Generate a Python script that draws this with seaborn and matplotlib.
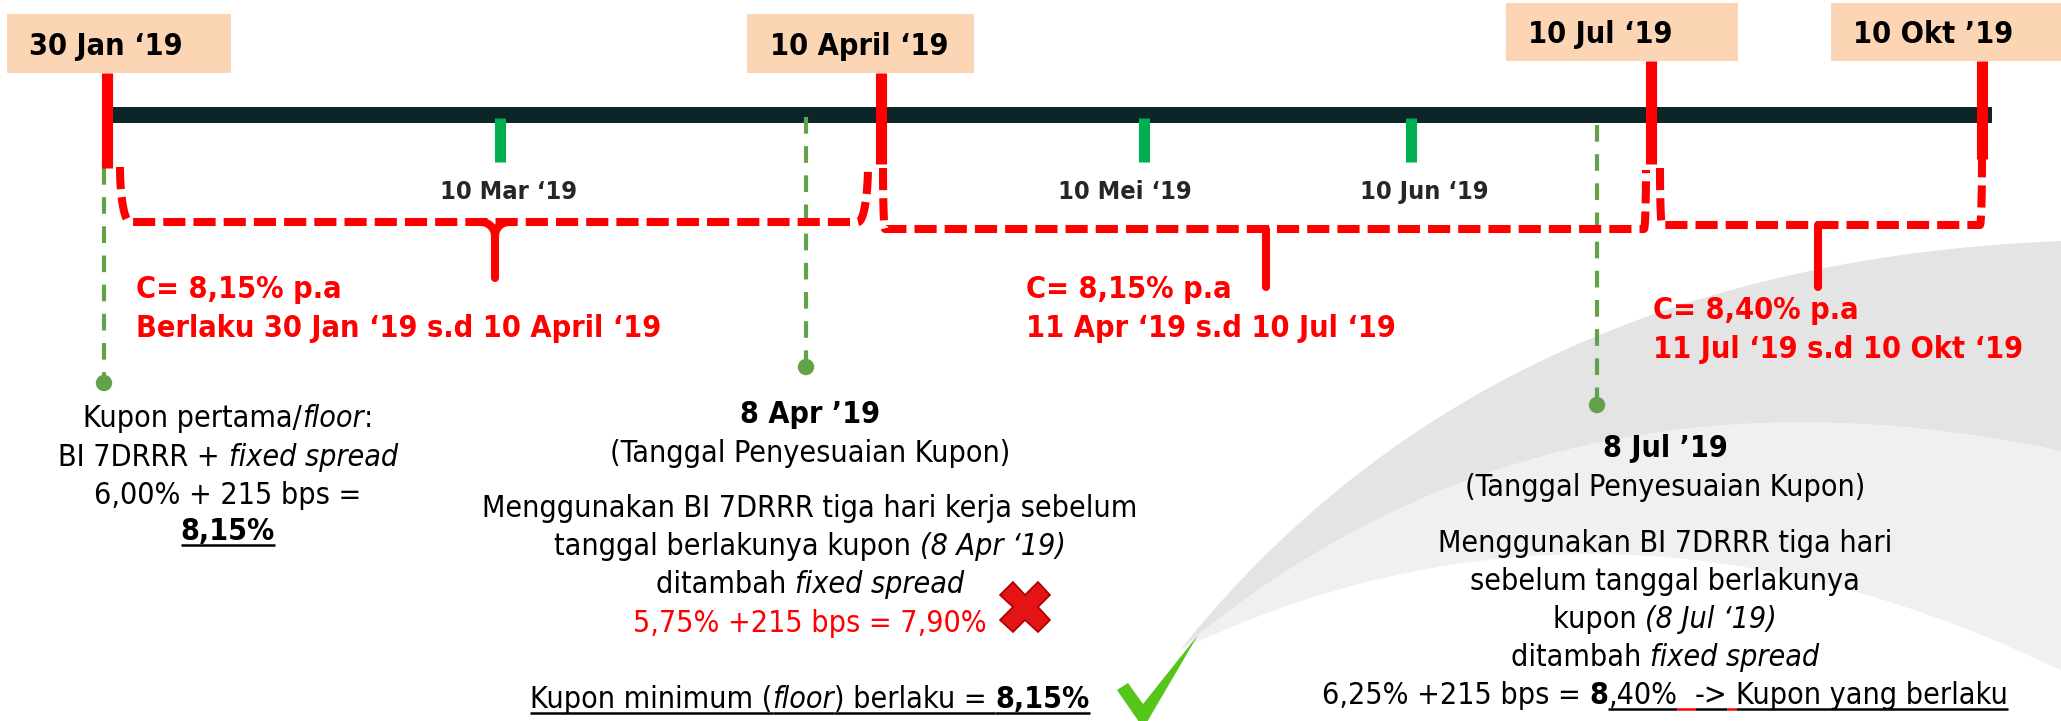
import matplotlib
matplotlib.use("Agg")
import numpy as np
import pandas as pd
import matplotlib.pyplot as plt
from matplotlib.patches import Rectangle, Polygon
import seaborn as sns

# ---- content ----
coupon_dates = ["30 Jan ‘19", "10 April ‘19", "10 Jul ‘19", "10 Okt ’19"]
month_dates = ["10 Mar ‘19", "10 Mei ‘19", "10 Jun ‘19"]
period_rates = ["8,15%", "8,15%", "8,40%"]
period_ranges = ["Berlaku 30 Jan ‘19 s.d 10 April ‘19",
                 "11 Apr ‘19 s.d 10 Jul ‘19",
                 "11 Jul ‘19 s.d 10 Okt ‘19"]
reset_dates = ["30 Jan ‘19", "8 Apr ’19", "8 Jul ’19"]

floor_note = [
    [("Kupon pertama/", ""), ("floor", "i"), (":", "")],
    [("BI 7DRRR + ", ""), ("fixed spread", "i")],
    [("6,00% + 215 bps =", "")],
    [("8,15%", "bu")],
]
april_note = [
    [("8 Apr ’19", "b")],
    [("(Tanggal Penyesuaian Kupon)", "")],
    [("Menggunakan BI 7DRRR tiga hari kerja sebelum", "")],
    [("tanggal berlakunya kupon ", ""), ("(8 Apr ‘19)", "i")],
    [("ditambah ", ""), ("fixed spread", "i")],
    [("5,75% +215 bps = 7,90%", "r")],
    [("Kupon minimum (", "u"), ("floor", "iu"), (") berlaku = ", "u"), ("8,15%", "bu")],
]
july_note = [
    [("8 Jul ’19", "b")],
    [("(Tanggal Penyesuaian Kupon)", "")],
    [("Menggunakan BI 7DRRR tiga hari", "")],
    [("sebelum tanggal berlakunya", "")],
    [("kupon ", ""), ("(8 Jul ‘19)", "i")],
    [("ditambah ", ""), ("fixed spread", "i")],
    [("6,25% +215 bps = ", ""), ("8", "b"), (",40%", "u"), ("  ", "U"),
     ("->", "u"), (" ", "U"), ("Kupon yang berlaku", "u")],
]

# ---- layout (pixels, origin top-left) ----
coupon_x = [107, 881, 1651, 1982]
coupon_line_y = [(73, 168), (73, 164), (61, 164), (61, 159)]
box_x = [(7, 231), (747, 974), (1506, 1738), (1831, 2061)]
box_y = [(14, 73), (14, 73), (3, 61), (3, 61)]
box_text_x = [29, 770, 1528, 1853]
box_text_base = [55, 55, 43, 43]
month_x = [500, 1144, 1411]
month_label_x = [509, 1125, 1424]
reset_x = [104, 806, 1597]
reset_top = [168, 117, 125]
reset_dot_y = [383, 367, 405]
bracket_geo = [  # x0, x1, ytop0, ytop1, yline, xtip, ytip, radius
    (120, 868, 167, 165, 222, 495, 278, 10),
    (883, 1646, 168, 170, 229, 1266, 287, 2),
    (1660, 1982, 168, 158, 225, 1818, 287, 2),
]
period_x = [136, 1026, 1653]
period_base = [(298, 337), (298, 337), (319, 358)]
note_x = [228, 810, 1665]
note_base = [[427, 466, 504, 540],
             [423, 462, 517, 555, 593, 632, 708],
             [457, 496, 552, 590, 628, 666, 704]]

RED = "#FF0000"
BAR = "#0C2529"
TICK_GREEN = "#00B050"
DASH_GREEN = "#62A349"
BOX = "#FCD5B4"

sns.set_theme(style="white")
plt.rcParams["font.family"] = ["DejaVu Sans"]
plt.rcParams["font.stretch"] = "condensed"

fig = plt.figure(figsize=(20.61, 7.21), dpi=100)
ax = fig.add_axes([0, 0, 1, 1])
renderer = fig.canvas.get_renderer()


def bezier(p0, p1, p2, n=80):
    t = np.linspace(0, 1, n)[:, None]
    return (1 - t) ** 2 * np.array(p0) + 2 * (1 - t) * t * np.array(p1) + t ** 2 * np.array(p2)


# watermark swoosh
outer = bezier((1180, 650), (1500, 250), (2100, 240))
inner = bezier((1180, 650), (1560, 330), (2100, 460))
inner2 = bezier((1180, 650), (1620, 440), (2100, 690))
ax.add_patch(Polygon(np.vstack([outer, inner[::-1]]), fc="#E4E4E4", ec="none", zorder=0))
ax.add_patch(Polygon(np.vstack([inner, inner2[::-1]]), fc="#F0F0F0", ec="none", zorder=0))

# header boxes
for (x0, x1), (y0, y1), tx, tb, lab in zip(box_x, box_y, box_text_x, box_text_base, coupon_dates):
    ax.add_patch(Rectangle((x0, y0), x1 - x0, y1 - y0, fc=BOX, ec="none", zorder=1))
    ax.text(tx, tb, lab, fontsize=22, fontweight="bold", color="black", va="baseline", zorder=5)

# timeline
ax.plot([coupon_x[0] + 3, coupon_x[-1] + 10], [115, 115], color=BAR, lw=11.5,
        solid_capstyle="butt", zorder=2)

# monthly ticks
for x, lx, lab in zip(month_x, month_label_x, month_dates):
    ax.plot([x, x], [118, 162], color=TICK_GREEN, lw=8, solid_capstyle="butt", zorder=3)
    ax.text(lx, 199, lab, fontsize=18.2, fontweight="bold", ha="center", va="baseline", zorder=5)

# coupon date lines
for x, (y0, y1) in zip(coupon_x, coupon_line_y):
    ax.plot([x, x], [y0, y1], color=RED, lw=8, solid_capstyle="butt", zorder=4)

# reset date dashed lines + dots
for x, y0, y1 in zip(reset_x, reset_top, reset_dot_y):
    ax.plot([x, x], [y0, y1], color=DASH_GREEN, lw=3, dashes=(4, 3), zorder=3)
dots = pd.DataFrame({"x": reset_x, "y": reset_dot_y, "date": reset_dates})
sns.scatterplot(data=dots, x="x", y="y", color=DASH_GREEN, s=140, edgecolor="none",
                legend=False, ax=ax, zorder=3)

# coupon period brackets
for x0, x1, yt0, yt1, yl, xt, ytp, r in bracket_geo:
    t = np.linspace(0, np.pi / 2, 20)
    left = np.column_stack([x0 + r * (1 - np.cos(t)), yt0 + (yl - yt0) * np.sin(t)])
    s = t[::-1]
    right = np.column_stack([x1 - r * (1 - np.cos(s)), yt1 + (yl - yt1) * np.sin(s)])
    path = np.vstack([left, right])
    ax.plot(path[:, 0], path[:, 1], color=RED, lw=5.8, dashes=(2.75, 1.0),
            dash_joinstyle="round", zorder=4)
    if r > 5:
        u = np.linspace(0, np.pi / 2, 12)
        for side in (-1, 1):
            cx, cy = xt + side * 14, yl + 14
            ax.plot(cx - side * 14 * np.sin(u), cy - 14 * np.cos(u), color=RED, lw=5.8,
                    solid_capstyle="round", zorder=4)
        ax.plot([xt, xt], [yl + 14, ytp], color=RED, lw=5.8, solid_capstyle="round", zorder=4)
    else:
        ax.plot([xt, xt], [yl, ytp], color=RED, lw=5.8, solid_capstyle="round", zorder=4)

# coupon period labels
for x, (b0, b1), rate, rng in zip(period_x, period_base, period_rates, period_ranges):
    ax.text(x, b0, f"C= {rate} p.a", fontsize=22, fontweight="bold", color=RED, va="baseline", zorder=5)
    ax.text(x, b1, rng, fontsize=22, fontweight="bold", color=RED, va="baseline", zorder=5)


def font_kw(code):
    return dict(fontweight="bold" if "b" in code else "normal",
                fontstyle="italic" if "i" in code else "normal")


def seg_width(s, size, code):
    kw = font_kw(code)
    a = ax.text(0, 0, "|" + s + "|", fontsize=size, **kw)
    b = ax.text(0, 0, "||", fontsize=size, **kw)
    w = a.get_window_extent(renderer).width - b.get_window_extent(renderer).width
    a.remove()
    b.remove()
    return w


def rich_line(x, y, parts, size=21.8):
    widths = [seg_width(s, size, c) for s, c in parts]
    left = x - sum(widths) / 2
    for (s, c), w in zip(parts, widths):
        col = RED if "r" in c else "black"
        ax.text(left, y, s, fontsize=size, color=col, ha="left", va="baseline", zorder=5, **font_kw(c))
        if "u" in c or "U" in c:
            ucol = RED if "U" in c else "black"
            ax.plot([left, left + w], [y + 5, y + 5], color=ucol, lw=1.8,
                    solid_capstyle="butt", zorder=5)
        left += w


for x, bases, note in zip(note_x, note_base, [floor_note, april_note, july_note]):
    for y, parts in zip(bases, note):
        rich_line(x, y, parts)

# cross and check icons
ax.plot([1025], [607], marker="X", ms=36, color="#E41414", mec="#A80000", mew=1.2, zorder=5)
check = [(1117, 690), (1128, 683), (1143, 704), (1198, 635), (1147, 722), (1139, 722)]
ax.add_patch(Polygon(check, fc="#55C51A", ec="none", zorder=5))

ax.set_xlim(0, 2061)
ax.set_ylim(721, 0)
ax.axis("off")
fig.savefig("out.png", dpi=100, facecolor="white")
